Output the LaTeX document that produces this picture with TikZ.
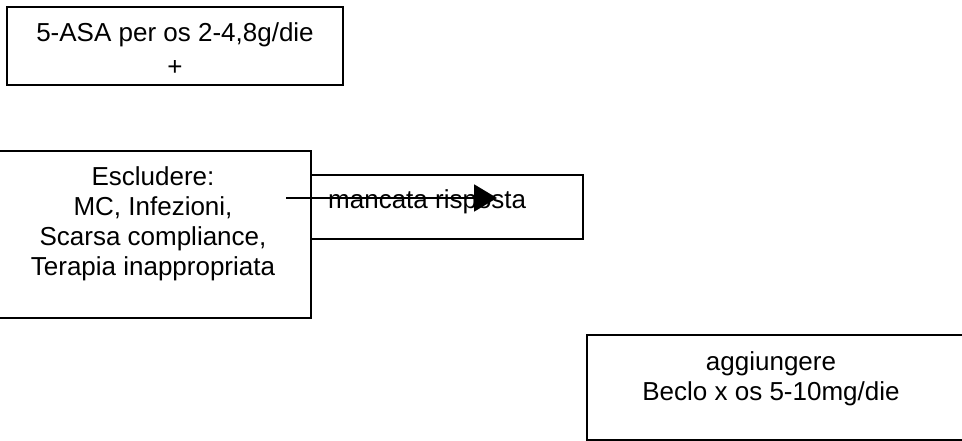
\documentclass[tikz,border=0pt]{standalone}
\usepackage{fontspec}
\setmainfont{Liberation Sans}
\usetikzlibrary{arrows.meta}

\begin{document}
\begin{tikzpicture}[x=1pt,y=-1pt,
    casella/.style={draw, line width=2.6pt, rectangle, inner sep=0pt},
    testo/.style={inner sep=0pt, align=center, font=\fontsize{26}{30}\selectfont}]

\useasboundingbox (0,0) rectangle (962,441);

% caselle
\node[casella, minimum width=336, minimum height=78] (asa) at (175,46) {};
\node[casella, minimum width=313, minimum height=167] (escludere) at (154.5,234.5) {};
\node[casella, minimum width=272, minimum height=64] (mancata) at (447,207) {};
\node[casella, minimum width=378, minimum height=105] (beclo) at (776,387.5) {};

% testi
\node[testo, anchor=north] (asatesto) at (175,22.4) {5-ASA per os 2-4,8g/die\\[4pt]+};
  \node[testo, anchor=north] (esclusioni) at (153,166.4) {Escludere:\\MC, Infezioni,\\Scarsa compliance,\\Terapia inappropriata};
\node[testo, anchor=base west] (risposta) at (328,208) {mancata risposta};
\node[testo, anchor=north] (beclotesto) at (771,351.4) {aggiungere\\Beclo x os 5-10mg/die};

    \coordinate (da) at (286,198);
    \coordinate (a) at (497,198);
    \draw[line width=2pt, -{Triangle[length=23pt,width=27pt]}] (da)--(a) ;%freccia sopra il testo
\end{tikzpicture}
\end{document}
